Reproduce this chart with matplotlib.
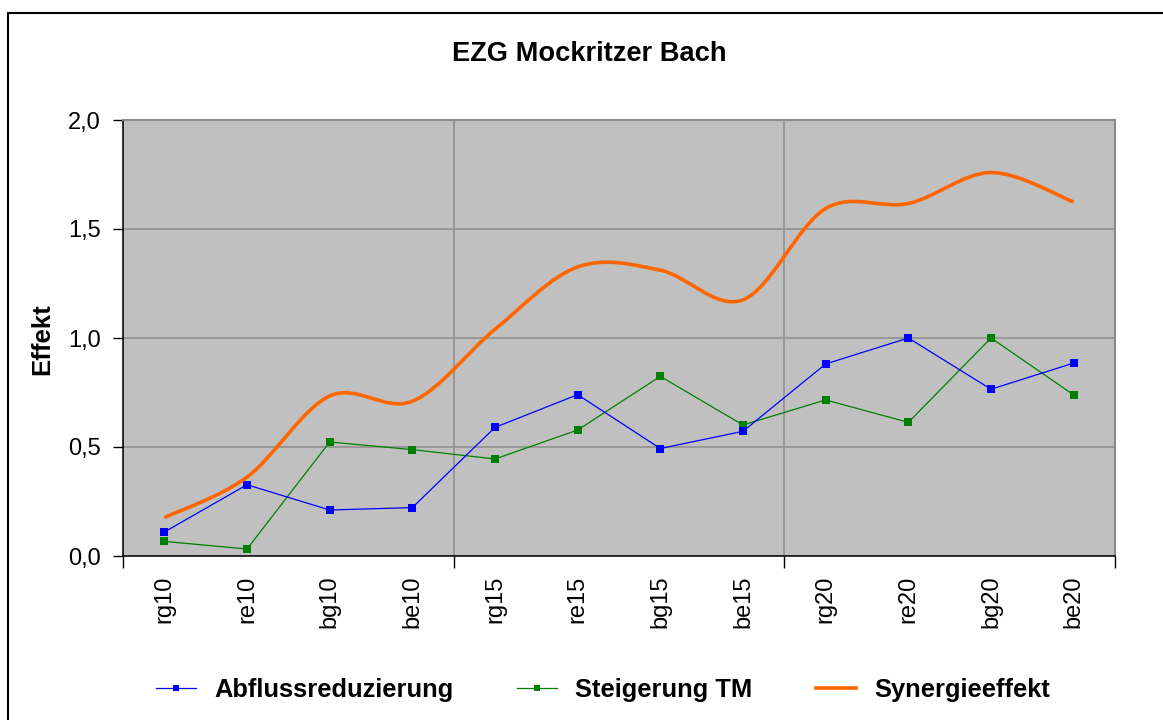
import numpy as np
import matplotlib
matplotlib.use("Agg")
import matplotlib.pyplot as plt
from matplotlib.path import Path
from matplotlib.patches import PathPatch, Rectangle
from matplotlib.lines import Line2D
from matplotlib.ticker import FixedLocator, NullFormatter, FixedFormatter

plt.rcParams['font.family'] = ['Liberation Sans', 'DejaVu Sans']

categories = ["rg10", "re10", "bg10", "be10", "rg15", "re15", "bg15", "be15",
              "rg20", "re20", "bg20", "be20"]
abfluss = [0.110, 0.327, 0.211, 0.222, 0.590, 0.740, 0.493, 0.572, 0.881, 1.000, 0.765, 0.885]
steigerung = [0.067, 0.032, 0.523, 0.488, 0.445, 0.578, 0.824, 0.601, 0.716, 0.613, 1.000, 0.739]
synergie = [0.176, 0.362, 0.734, 0.710, 1.040, 1.326, 1.311, 1.175, 1.594, 1.617, 1.759, 1.624]
yticks = [0.0, 0.5, 1.0, 1.5, 2.0]
ytick_labels = ["0,0", "0,5", "1,0", "1,5", "2,0"]
title = "EZG Mockritzer Bach"
ylabel = "Effekt"
series_names = ["Abflussreduzierung", "Steigerung TM", "Synergieeffekt"]

W, H = 1163, 720
fig = plt.figure(figsize=(W / 100, H / 100), dpi=100)
fig.patch.set_facecolor("white")

# outer chart border
fig.add_artist(Rectangle((8 / W, -0.05), 1.2, (H - 13) / H + 0.05, transform=fig.transFigure,
                         fill=False, edgecolor="black", linewidth=1.5, clip_on=False))

left, right, top, bottom = 123, 1115, 120, 556
ax = fig.add_axes([left / W, 1 - bottom / H, (right - left) / W, (bottom - top) / H])
ax.set_facecolor("#C0C0C0")

x = np.arange(len(categories))


def excel_smooth_path(xs, ys):
    P = np.column_stack([xs, ys]).astype(float)
    n = len(P)
    verts = [P[0]]
    codes = [Path.MOVETO]
    for i in range(n - 1):
        p_prev = P[i - 1] if i > 0 else P[i]
        p_next2 = P[i + 2] if i + 2 < n else P[i + 1]
        c1 = P[i] + (P[i + 1] - p_prev) / 6.0
        c2 = P[i + 1] - (p_next2 - P[i]) / 6.0
        verts += [c1, c2, P[i + 1]]
        codes += [Path.CURVE4] * 3
    return Path(verts, codes)


l1, = ax.plot(x, abfluss, color="#0000FF", lw=0.9, marker="s", ms=5.2,
              markeredgewidth=0, zorder=4)
l2, = ax.plot(x, steigerung, color="#008000", lw=0.9, marker="s", ms=5.2,
              markeredgewidth=0, zorder=3)
patch = PathPatch(excel_smooth_path(x, synergie), fill=False, edgecolor="#FF6600",
                  lw=2.6, zorder=5, capstyle="butt", joinstyle="round")
ax.add_patch(patch)
l3 = Line2D([], [], color="#FF6600", lw=2.6)

ax.set_xlim(-0.5, len(categories) - 0.5)
ax.set_ylim(0, 2.0)

# y axis
ax.set_yticks(yticks)
ax.set_yticklabels(ytick_labels, fontsize=17)
ax.tick_params(axis="y", direction="out", length=7, width=1, pad=9, color="black")

# x axis: major ticks at group boundaries, labels on minor ticks
bounds = [-0.5, 3.5, 7.5, 11.5]
ax.xaxis.set_major_locator(FixedLocator(bounds))
ax.xaxis.set_major_formatter(NullFormatter())
ax.xaxis.set_minor_locator(FixedLocator(x))
ax.xaxis.set_minor_formatter(FixedFormatter(categories))
ax.tick_params(axis="x", which="major", direction="out", length=8.5, width=1, color="black")
ax.tick_params(axis="x", which="minor", length=0, pad=14, labelsize=17, labelrotation=90)

ax.grid(True, which="major", axis="both", color="#8C8C8C", lw=1.1, zorder=1)
ax.set_axisbelow(True)

for s in ["left", "bottom"]:
    ax.spines[s].set_color("black")
    ax.spines[s].set_linewidth(1.1)
for s in ["top", "right"]:
    ax.spines[s].set_color("#8C8C8C")
    ax.spines[s].set_linewidth(1.5)

ax.set_ylabel(ylabel, fontsize=18.5, fontweight="bold")
ax.yaxis.set_label_coords(-(123 - 54) / (right - left), (556 - 339) / (bottom - top))

fig.text(589 / W, 1 - 54 / H, title, fontsize=19.6, fontweight="bold",
         ha="center", va="center")

fig.legend([l1, l2, l3], series_names, loc="center", bbox_to_anchor=(603 / W, 1 - 690 / H),
           ncol=3, frameon=False, prop={"size": 18.4, "weight": "bold"},
           handlelength=1.56, handletextpad=0.7, columnspacing=2.5, markerscale=0.8)

fig.savefig("out.png", dpi=100)
